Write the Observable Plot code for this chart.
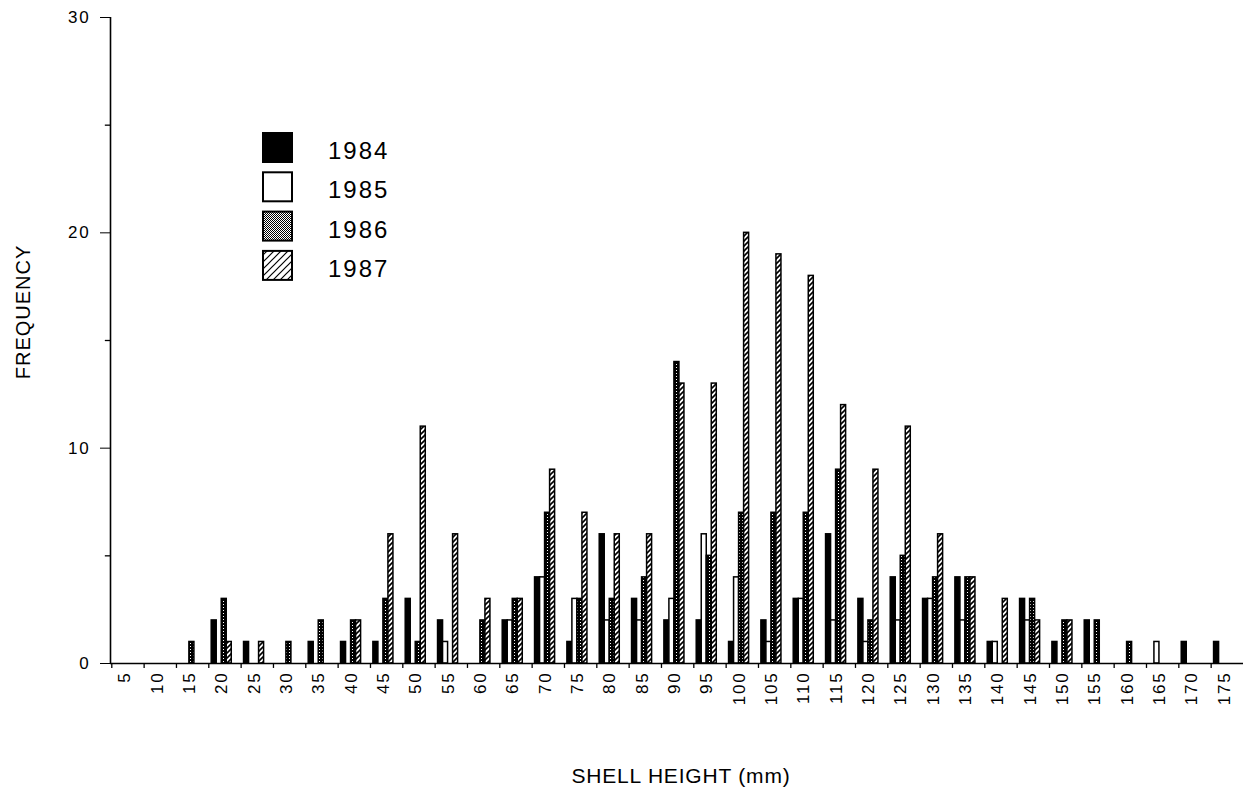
<!DOCTYPE html>
<html>
<head>
<meta charset="utf-8">
<script src="https://cdn.jsdelivr.net/npm/d3@7"></script>
<script src="https://cdn.jsdelivr.net/npm/@observablehq/plot@0.6"></script>
<style>
  html, body { margin: 0; padding: 0; background: #fff; }
  svg { display: block; }
</style>
</head>
<body>
<script>
// ---- data ----
const sizes = [5,10,15,20,25,30,35,40,45,50,55,60,65,70,75,80,85,90,95,100,105,110,115,120,125,130,135,140,145,150,155,160,165,170,175];
const years = ["1984", "1985", "1986", "1987"];
const freq1984 = [0,0,0,2,1, 0,1,1,1,3, 2,0,2,4,1, 6,3,2,2,1, 2,3,6,3,4, 3,4,1,3,1, 2,0,0,1,1];
const freq1985 = [0,0,0,0,0, 0,0,0,0,0, 1,0,2,4,3, 2,2,3,6,4, 1,3,2,1,2, 3,2,1,2,0, 0,0,1,0,0];
const freq1986 = [0,0,1,3,0, 1,2,2,3,1, 0,2,3,7,3, 3,4,14,5,7, 7,7,9,2,5, 4,4,0,3,2, 2,1,0,0,0];
const freq1987 = [0,0,0,1,1, 0,0,2,6,11, 6,3,3,9,7, 6,6,13,13,20, 19,18,12,9,11, 6,4,3,2,2, 0,0,0,0,0];
const yTicks = [0, 10, 20, 30];
const yMinorTicks = [5, 15, 25];

// ---- layout ----
const series = [freq1984, freq1985, freq1986, freq1987];
const barFills = ["black", "white", "url(#dotsBar)", "url(#hatchBar)"];
const legendFills = ["black", "white", "url(#dotsKey)", "url(#hatchKey)"];
const xDomain = [2.8, 178];
const barW = 0.775;          // width of one bar in x units
const groupOff = -1.55;      // left edge of a group relative to its size class

const rows = [];
years.forEach((yr, k) => {
  sizes.forEach((s, i) => {
    const v = series[k][i];
    if (v > 0) rows.push({size: s, year: yr, k, freq: v});
  });
});

const barMarks = years.map((yr, k) =>
  Plot.rect(rows.filter(r => r.k === k), {
    x1: r => r.size + groupOff + k * barW,
    x2: r => r.size + groupOff + (k + 1) * barW,
    y1: 0,
    y2: "freq",
    fill: barFills[k],
    stroke: "black",
    strokeWidth: 1.5
  })
);

const plot = Plot.plot({
  width: 1248,
  height: 789,
  marginLeft: 110,
  marginRight: 5,
  marginTop: 17,
  marginBottom: 126,
  style: {
    fontFamily: "'Liberation Sans', Arial, Helvetica, sans-serif",
    fontSize: "17px",
    letterSpacing: "2px",
    color: "black",
    background: "white"
  },
  x: {
    type: "linear",
    domain: xDomain,
    ticks: sizes,
    tickSize: 0,
    tickPadding: 8,
    tickRotate: -90,
    label: null
  },
  y: {
    domain: [0, 30],
    ticks: yTicks,
    tickSize: 10,
    tickPadding: 10,
    label: null
  },
  marks: [
    ...barMarks,
    // axis lines
    Plot.ruleY([0], {stroke: "black", strokeWidth: 1.6}),
    Plot.ruleX([xDomain[0]], {stroke: "black", strokeWidth: 1.6}),
    // x tick marks between size classes
    Plot.ruleX(sizes, {x: d => d - 2, y1: 0, y2: -0.23, stroke: "black", strokeWidth: 1.3}),
    // minor y ticks
    Plot.ruleY(yMinorTicks, {y: d => d, x1: xDomain[0], x2: xDomain[0] - 0.8, stroke: "black", strokeWidth: 1.3})
  ]
});

document.body.appendChild(plot);

// ---- patterns, legend and axis titles ----
const svg = d3.select(plot);
// tick label styling for Plot's axes
svg.selectAll("text").style("font-size", "17px").style("letter-spacing", "1.8px");

const defs = svg.insert("defs", ":first-child");

function pattern(id, size) {
  return defs.append("pattern")
    .attr("id", id).attr("patternUnits", "userSpaceOnUse")
    .attr("width", size).attr("height", size);
}
// dense stipple for the narrow bars
const dBar = pattern("dotsBar", 3);
dBar.append("rect").attr("width", 3).attr("height", 3).attr("fill", "black");
dBar.append("rect").attr("x", 1).attr("y", 1).attr("width", 1).attr("height", 1).attr("fill", "white");
// lighter stipple for the legend key
const dKey = pattern("dotsKey", 2);
dKey.append("rect").attr("width", 2).attr("height", 2).attr("fill", "white");
dKey.append("rect").attr("x", 0).attr("y", 0).attr("width", 1).attr("height", 1).attr("fill", "black");
dKey.append("rect").attr("x", 1).attr("y", 1).attr("width", 1).attr("height", 1).attr("fill", "black");
// hatch for bars (ladder look) and for the key
const hBar = pattern("hatchBar", 5);
hBar.append("rect").attr("width", 5).attr("height", 5).attr("fill", "white");
hBar.append("path").attr("d", "M0,5 L5,0 M-1,1 L1,-1 M4,6 L6,4")
  .attr("stroke", "black").attr("stroke-width", 1.6);
const hKey = pattern("hatchKey", 7);
hKey.append("rect").attr("width", 7).attr("height", 7).attr("fill", "white");
hKey.append("path").attr("d", "M0,7 L7,0 M-1,1 L1,-1 M6,8 L8,6")
  .attr("stroke", "black").attr("stroke-width", 1.2);

const legend = svg.append("g").attr("class", "legend");
years.forEach((yr, k) => {
  const top = 133 + k * 39.3;
  legend.append("rect")
    .attr("x", 263).attr("y", top).attr("width", 29).attr("height", 29)
    .attr("fill", legendFills[k]).attr("stroke", "black").attr("stroke-width", 2);
  legend.append("text")
    .attr("x", 328).attr("y", top + 26)
    .attr("text-anchor", "start")
    .style("font-size", "24px").style("letter-spacing", "2px")
    .attr("fill", "black")
    .text(yr);
});

svg.append("text")
  .attr("x", 681).attr("y", 783)
  .attr("text-anchor", "middle")
  .style("font-size", "21px").style("letter-spacing", "0.8px")
  .attr("fill", "black")
  .text("SHELL HEIGHT (mm)");

svg.append("text")
  .attr("transform", "translate(30,312) rotate(-90)")
  .attr("text-anchor", "middle")
  .style("font-size", "20px").style("letter-spacing", "1px")
  .attr("fill", "black")
  .text("FREQUENCY");
</script>
</body>
</html>
